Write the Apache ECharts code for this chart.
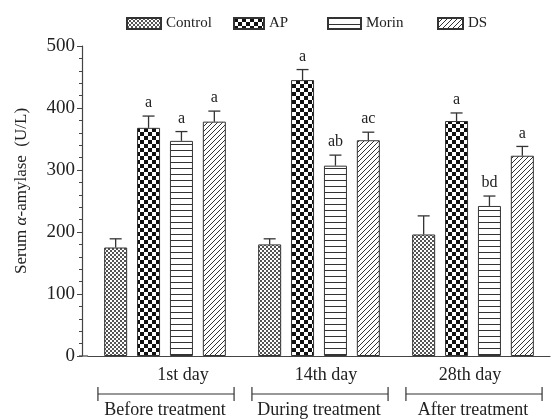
<!DOCTYPE html>
<html>
<head>
<meta charset="utf-8">
<script src="https://cdn.jsdelivr.net/npm/echarts@6/dist/echarts.min.js"></script>
<style>html,body{margin:0;padding:0;background:#fff;}#c{width:551px;height:419px;}</style>
</head>
<body>
<div id="c"></div>
<script>
// ---- data ----
var categories = ['1st day', '14th day', '28th day'];
var phases = ['Before treatment', 'During treatment', 'After treatment'];
var seriesNames = ['Control', 'AP', 'Morin', 'DS'];
var controlVals = [175, 180, 196];
var apVals = [368, 445, 379];
var morinVals = [347, 307, 242];
var dsVals = [378, 348, 323];
var controlErr = [14, 9, 30];
var apErr = [19, 17, 13];
var morinErr = [15, 17, 16];
var dsErr = [17, 13, 15];
var controlSig = ['', '', ''];
var apSig = ['a', 'a', 'a'];
var morinSig = ['a', 'ab', 'bd'];
var dsSig = ['a', 'ac', 'a'];
var yTicks = [0, 100, 200, 300, 400, 500];

// ---- patterns ----
function makePattern(w, h, draw) {
  var c = document.createElement('canvas');
  c.width = w; c.height = h;
  var ctx = c.getContext('2d');
  ctx.fillStyle = '#fff'; ctx.fillRect(0, 0, w, h);
  draw(ctx);
  return { image: c, repeat: 'repeat' };
}
var patControl = makePattern(4, 4, function (ctx) {
  ctx.fillStyle = '#555';
  ctx.fillRect(0, 0, 2, 2); ctx.fillRect(2, 2, 2, 2);
});
var patAP = makePattern(8, 8, function (ctx) {
  ctx.fillStyle = '#111';
  ctx.fillRect(0, 0, 4, 4); ctx.fillRect(4, 4, 4, 4);
});
var patMorin = makePattern(4, 6, function (ctx) {
  ctx.fillStyle = '#333';
  ctx.fillRect(0, 0, 4, 1);
});
var patDS = makePattern(5, 5, function (ctx) {
  ctx.strokeStyle = '#333'; ctx.lineWidth = 1;
  ctx.beginPath();
  ctx.moveTo(-1, 6); ctx.lineTo(6, -1);
  ctx.moveTo(-1, 1); ctx.lineTo(1, -1);
  ctx.moveTo(4, 6); ctx.lineTo(6, 4);
  ctx.stroke();
});
var patterns = [patControl, patAP, patMorin, patDS];
var vals = [controlVals, apVals, morinVals, dsVals];
var errs = [controlErr, apErr, morinErr, dsErr];
var sigs = [controlSig, apSig, morinSig, dsSig];

var FONT = '"Liberation Serif","DejaVu Serif",serif';
var BAR_W = 23, GAP = 0.43, PITCH = BAR_W * (1 + GAP);
var labelShift = [18, 7, -3]; // horizontal nudge of the day labels (px)

var errData = [], errLabels = [];
for (var s = 0; s < 4; s++) {
  for (var i = 0; i < categories.length; i++) {
    errData.push([i, vals[s][i], errs[s][i], s]);
    errLabels.push(sigs[s][i]);
  }
}

var chart = echarts.init(document.getElementById('c'), null, { renderer: 'canvas' });

var barSeries = seriesNames.map(function (n, s) {
  return {
    name: n, type: 'bar', data: vals[s], barWidth: BAR_W, barGap: (GAP * 100) + '%',
    itemStyle: { color: patterns[s], borderColor: '#333', borderWidth: 1 },
    emphasis: { disabled: true }, animation: false
  };
});

var legendLeft = [126, 233, 327, 437];
var legendW = [34, 30, 33, 25];

var dayAxisData = categories.map(function (c, i) {
  var sh = labelShift[i];
  return { value: c, textStyle: { padding: sh >= 0 ? [0, 0, 0, 2 * sh] : [0, -2 * sh, 0, 0] } };
});

var option = {
  animation: false,
  grid: { left: 88, right: 1, top: 46, bottom: 62, containLabel: false },
  legend: seriesNames.map(function (n, s) {
    return {
      data: [n], left: legendLeft[s], top: 16, padding: 0, itemWidth: legendW[s], itemHeight: 11,
      icon: 'rect', selectedMode: false,
      textStyle: { fontFamily: FONT, fontSize: 15, color: '#222' }
    };
  }),
  xAxis: [{
    type: 'category', data: dayAxisData,
    axisLine: { lineStyle: { color: '#444', width: 1.2 } },
    axisTick: { alignWithLabel: true, length: 5, lineStyle: { color: '#444' } },
    axisLabel: { fontFamily: FONT, fontSize: 18, color: '#222', margin: 10, interval: 0 }
  }, {
    type: 'category', data: phases, position: 'bottom',
    axisLine: { show: false }, axisTick: { show: false },
    axisLabel: { fontFamily: FONT, fontSize: 18, color: '#222', margin: 45, interval: 0, hideOverlap: false }
  }],
  yAxis: {
    type: 'value', min: 0, max: 500, interval: 100, offset: 6,
    name: '{n|Serum }{i|α}{n|-amylase  (U/L)}', nameLocation: 'middle', nameGap: 52,
    nameTextStyle: {
      padding: [0, 0, 0, 20],
      rich: {
        n: { fontFamily: FONT, fontSize: 17, color: '#222' },
        i: { fontFamily: FONT, fontSize: 17, color: '#222', fontStyle: 'italic' }
      }
    },
    axisLine: { show: true, lineStyle: { color: '#444', width: 1.2 } },
    axisTick: { show: true, length: 5, lineStyle: { color: '#444' } },
    minorTick: { show: true, splitNumber: 5, length: 3, lineStyle: { color: '#444' } },
    splitLine: { show: false },
    axisLabel: {
      fontFamily: FONT, fontSize: 19, color: '#222', margin: 7,
      formatter: function (v) { return yTicks.indexOf(v) >= 0 ? String(v) : ''; }
    }
  },
  series: barSeries.concat([{
    type: 'custom', name: 'err', data: errData, z: 5, silent: true,
    renderItem: function (params, api) {
      var ci = api.value(0), v = api.value(1), e = api.value(2), si = api.value(3);
      var base = api.coord([ci, v]);
      var x = base[0] + (si - 1.5) * PITCH;
      var yTop = api.coord([ci, v + e])[1];
      var st = { stroke: '#333', lineWidth: 1.3 };
      var children = [
        { type: 'line', shape: { x1: x, y1: base[1], x2: x, y2: yTop }, style: st },
        { type: 'line', shape: { x1: x - 6, y1: yTop, x2: x + 6, y2: yTop }, style: st }
      ];
      var lab = errLabels[params.dataIndex];
      if (lab) {
        children.push({
          type: 'text', x: x, y: yTop - 5,
          style: { text: lab, fill: '#222', font: '16px ' + FONT, textAlign: 'center', textVerticalAlign: 'bottom' }
        });
      }
      return { type: 'group', children: children };
    }
  }])
};
chart.setOption(option);

// brackets under the phase labels + x-axis extension to the offset y-axis
function drawExtras() {
  var g = [];
  var zeroPt = chart.convertToPixel({ xAxisIndex: 0, yAxisIndex: 0 }, [0, 0]);
  var c1 = chart.convertToPixel({ xAxisIndex: 0 }, 1);
  var c0 = chart.convertToPixel({ xAxisIndex: 0 }, 0);
  var band = c1 - c0;
  var half = band * 0.442;
  var by = zeroPt[1] + 38;
  for (var i = 0; i < categories.length; i++) {
    var cx = chart.convertToPixel({ xAxisIndex: 0 }, i) + 1;
    var st = { stroke: '#333', lineWidth: 1.2 };
    g.push({ type: 'line', shape: { x1: cx - half, y1: by, x2: cx + half, y2: by }, style: st });
    g.push({ type: 'line', shape: { x1: cx - half, y1: by - 7, x2: cx - half, y2: by + 7 }, style: st });
    g.push({ type: 'line', shape: { x1: cx + half, y1: by - 7, x2: cx + half, y2: by + 7 }, style: st });
  }
  var gridLeft = c0 - band / 2;
  g.push({ type: 'line', shape: { x1: gridLeft - 9, y1: zeroPt[1], x2: gridLeft, y2: zeroPt[1] }, style: { stroke: '#444', lineWidth: 1.2 } });
  chart.setOption({ graphic: g });
}
drawExtras();
</script>
</body>
</html>
